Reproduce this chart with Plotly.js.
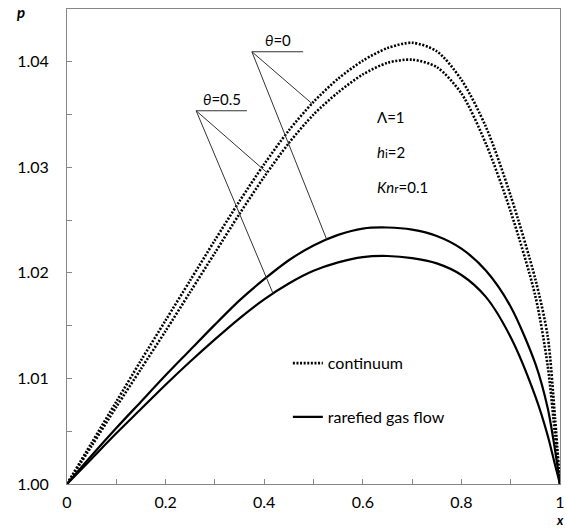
<!DOCTYPE html>
<html>
<head>
<meta charset="utf-8">
<script src="https://cdn.plot.ly/plotly-3.0.1.min.js"></script>
<style>html,body{margin:0;padding:0;background:#fff;}#chart{width:566px;height:530px;}</style>
</head>
<body>
<div id="chart"></div>
<script>
// ---- data ----
const xs = [0, 0.05, 0.1, 0.15, 0.2, 0.25, 0.3, 0.35, 0.4, 0.45, 0.5, 0.55, 0.6, 0.65, 0.7, 0.75, 0.8, 0.85, 0.9, 0.95, 0.975, 0.99, 1];
const contTheta0  = [1.0000,1.0039,1.0078,1.0117,1.0155,1.0193,1.0231,1.0268,1.0303,1.0335,1.0362,1.0384,1.0401,1.0413,1.0418,1.0410,1.0383,1.0338,1.0273,1.0194,1.0140,1.0062,1.0000];
const contTheta05 = [1.0000,1.0036,1.0073,1.0109,1.0145,1.0182,1.0219,1.0256,1.0291,1.0323,1.0350,1.0371,1.0388,1.0399,1.0402,1.0395,1.0370,1.0322,1.0258,1.0178,1.0112,1.0046,1.0000];
const rarTheta0   = [1.0000,1.0027,1.0053,1.0078,1.0103,1.0127,1.0151,1.0174,1.0194,1.0212,1.0226,1.0236,1.0242,1.0243,1.0241,1.0235,1.0223,1.0202,1.0168,1.0114,1.0072,1.0032,1.0000];
const rarTheta05  = [1.0000,1.0024,1.0048,1.0071,1.0094,1.0116,1.0137,1.0157,1.0175,1.0190,1.0202,1.0210,1.0215,1.0216,1.0214,1.0209,1.0198,1.0177,1.0139,1.0083,1.0046,1.0018,1.0000];
const xTickVals = [0, 0.2, 0.4, 0.6, 0.8, 1];
const xTickText = ['0', '0.2', '0.4', '0.6', '0.8', '1'];
const yTickVals = [1.00, 1.01, 1.02, 1.03, 1.04];
const yTickText = ['1.00', '1.01', '1.02', '1.03', '1.04'];
const seriesNames = ['continuum', 'rarefied gas flow'];

function interp(arr, x) {
  for (let i = 0; i < xs.length - 1; i++) {
    if (x >= xs[i] && x <= xs[i + 1]) {
      const t = (x - xs[i]) / (xs[i + 1] - xs[i]);
      return arr[i] + t * (arr[i + 1] - arr[i]);
    }
  }
  return arr[arr.length - 1];
}

const FONT = 'Lato, "Open Sans", sans-serif';
const dotStyle = {color: '#000', width: 2.6, dash: '2px,1.6px', shape: 'spline', smoothing: 0.8};
const solidStyle = {color: '#000', width: 2.2, shape: 'spline', smoothing: 0.8};

const traces = [
  {x: xs, y: contTheta0, mode: 'lines', line: dotStyle, name: seriesNames[0], legendgroup: 'c', showlegend: true},
  {x: xs, y: contTheta05, mode: 'lines', line: dotStyle, name: seriesNames[0], legendgroup: 'c', showlegend: false},
  {x: xs, y: rarTheta0, mode: 'lines', line: solidStyle, name: seriesNames[1], legendgroup: 'r', showlegend: true},
  {x: xs, y: rarTheta05, mode: 'lines', line: solidStyle, name: seriesNames[1], legendgroup: 'r', showlegend: false}
];

// leader lines for theta labels
const a0 = {x: 0.375, y: 1.04095, x2: 0.479};
const a5 = {x: 0.262, y: 1.03536, x2: 0.365};
const t0dot = 0.497, t0sol = 0.527, t5dot = 0.406, t5sol = 0.418;
const lineSty = {color: '#333', width: 1};
const shapes = [
  {type: 'line', xref: 'x', yref: 'y', x0: a0.x, y0: a0.y, x1: a0.x2, y1: a0.y, line: lineSty},
  {type: 'line', xref: 'x', yref: 'y', x0: a0.x, y0: a0.y, x1: t0dot, y1: interp(contTheta0, t0dot), line: lineSty},
  {type: 'line', xref: 'x', yref: 'y', x0: a0.x, y0: a0.y, x1: t0sol, y1: interp(rarTheta0, t0sol), line: lineSty},
  {type: 'line', xref: 'x', yref: 'y', x0: a5.x, y0: a5.y, x1: a5.x2, y1: a5.y, line: lineSty},
  {type: 'line', xref: 'x', yref: 'y', x0: a5.x, y0: a5.y, x1: t5dot, y1: interp(contTheta05, t5dot), line: lineSty},
  {type: 'line', xref: 'x', yref: 'y', x0: a5.x, y0: a5.y, x1: t5sol, y1: interp(rarTheta05, t5sol), line: lineSty}
];

const annFont = {family: FONT, size: 15, color: '#000'};
const annotations = [
  {xref: 'x', yref: 'y', x: (a0.x + a0.x2) / 2, y: a0.y, yanchor: 'bottom', yshift: 1, showarrow: false, text: '<i>\u03b8</i>=0', font: annFont},
  {xref: 'x', yref: 'y', x: (a5.x + a5.x2) / 2, y: a5.y, yanchor: 'bottom', yshift: 1, showarrow: false, text: '<i>\u03b8</i>=0.5', font: annFont},
  {xref: 'paper', yref: 'paper', x: 0.625, y: 0.7726, xanchor: 'left', yanchor: 'middle', showarrow: false, text: '\u039b=1', font: annFont},
  {xref: 'paper', yref: 'paper', x: 0.625, y: 0.699, xanchor: 'left', yanchor: 'middle', showarrow: false, text: '<i>h</i><span style="font-size:12px">i</span>=2', font: annFont},
  {xref: 'paper', yref: 'paper', x: 0.625, y: 0.6253, xanchor: 'left', yanchor: 'middle', showarrow: false, text: '<i>Kn</i><span style="font-size:12px">r</span>=0.1', font: annFont},
  {xref: 'paper', yref: 'paper', x: -0.093, y: 1.0, xanchor: 'center', yanchor: 'middle', yshift: -3, showarrow: false, text: '<b><i>p</i></b>', font: {family: FONT, size: 15, color: '#000'}},
  {xref: 'paper', yref: 'paper', x: 1.0, y: 0, xanchor: 'center', yanchor: 'bottom', yshift: -46, showarrow: false, text: '<b><i>x</i></b>', font: {family: FONT, size: 13, color: '#000'}}
];

const axisCommon = {
  showgrid: false, zeroline: false, showline: true, linecolor: '#868686', linewidth: 1, mirror: true,
  ticks: 'inside', ticklen: 5, tickcolor: '#868686', tickwidth: 1,
  tickfont: {family: FONT, size: 16, color: '#000'}
};

const layout = {
  width: 566, height: 530,
  margin: {l: 67, r: 6, t: 9, b: 46},
  paper_bgcolor: '#fff', plot_bgcolor: '#fff',
  showlegend: true,
  legend: {x: 0.448, y: 0.29, xanchor: 'left', yanchor: 'top', bgcolor: 'rgba(0,0,0,0)', font: {family: FONT, size: 16, color: '#000'}, tracegroupgap: 30, itemwidth: 30},
  xaxis: Object.assign({}, axisCommon, {range: [0, 1], tickvals: xTickVals, ticktext: xTickText, ticklabelstandoff: 4,
    minor: {ticks: 'inside', ticklen: 5, tickcolor: '#868686', dtick: 0.1, showgrid: false}}),
  yaxis: Object.assign({}, axisCommon, {range: [1.0, 1.045], tickvals: yTickVals, ticktext: yTickText, ticklabelstandoff: 14,
    minor: {ticks: 'inside', ticklen: 5, tickcolor: '#868686', dtick: 0.005, showgrid: false}}),
  shapes: shapes,
  annotations: annotations
};

Plotly.newPlot('chart', traces, layout, {displayModeBar: false, staticPlot: true});
</script>
</body>
</html>
